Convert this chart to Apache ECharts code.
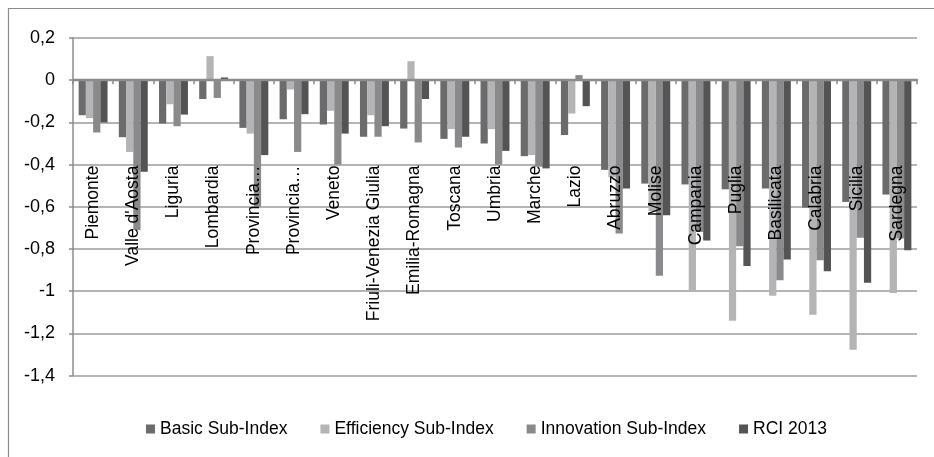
<!DOCTYPE html>
<html>
<head>
<meta charset="utf-8">
<script src="https://cdn.jsdelivr.net/npm/echarts@6/dist/echarts.min.js"></script>
<style>html,body{margin:0;padding:0;background:#fff;}#c{width:934px;height:457px;}</style>
</head>
<body>
<div id="c"></div>
<script>
const categories = ['Piemonte', "Valle d'Aosta", 'Liguria', 'Lombardia', 'Provincia Autonoma Bolzano', 'Provincia Autonoma Trento', 'Veneto', 'Friuli-Venezia Giulia', 'Emilia-Romagna', 'Toscana', 'Umbria', 'Marche', 'Lazio', 'Abruzzo', 'Molise', 'Campania', 'Puglia', 'Basilicata', 'Calabria', 'Sicilia', 'Sardegna'];
const basic      = [-0.166, -0.27, -0.205, -0.089, -0.226, -0.185, -0.21, -0.268, -0.229, -0.278, -0.30, -0.36, -0.26, -0.425, -0.49, -0.494, -0.517, -0.513, -0.604, -0.577, -0.542];
const efficiency = [-0.18, -0.34, -0.114, 0.114, -0.253, -0.044, -0.145, -0.166, 0.09, -0.232, -0.232, -0.355, -0.158, -0.46, -0.62, -0.995, -1.14, -1.022, -1.112, -1.278, -1.008];
const innovation = [-0.248, -0.71, -0.218, -0.084, -0.6, -0.34, -0.40, -0.268, -0.295, -0.319, -0.40, -0.41, 0.024, -0.727, -0.927, -0.72, -0.787, -0.948, -0.853, -0.747, -0.75];
const rci        = [-0.2, -0.434, -0.163, 0.013, -0.355, -0.161, -0.253, -0.218, -0.089, -0.268, -0.335, -0.418, -0.123, -0.513, -0.64, -0.76, -0.88, -0.85, -0.905, -0.96, -0.806];
const seriesNames = ['Basic Sub-Index', 'Efficiency Sub-Index', 'Innovation Sub-Index', 'RCI 2013'];
const colors = ['#6b6b6b', '#b4b4b6', '#8a8a8c', '#545454'];

const font = '"Liberation Sans", Arial, sans-serif';
const chart = echarts.init(document.getElementById('c'), null, {renderer: 'canvas'});
const values = [basic, efficiency, innovation, rci];
chart.setOption({
  animation: false,
  color: colors,
  graphic: [{
    type: 'rect', shape: {x: 8.5, y: 8.5, width: 1200, height: 1200},
    style: {fill: null, stroke: '#8c8c8c', lineWidth: 1.2}, silent: true, z: -10
  }],
  grid: {left: 73, right: 17, top: 38, height: 337.6, containLabel: false, outerBoundsMode: 'none'},
  legend: {
    data: seriesNames, left: 141, top: 415, icon: 'rect', itemWidth: 9, itemHeight: 9, itemGap: 33,
    textStyle: {fontFamily: font, fontSize: 17.5, color: '#000'}
  },
  xAxis: {
    type: 'category', data: categories, z: 10,
    axisLine: {onZero: true, lineStyle: {color: '#8c8c8c', width: 2.3}},
    axisTick: {show: true, length: 4, lineStyle: {color: '#8c8c8c', width: 1.5}},
    axisLabel: {
      rotate: 90, margin: -210, interval: 0, color: '#000', fontFamily: font, fontSize: 17.5,
      hideOverlap: false,
      formatter: v => v.indexOf('Provincia') === 0 ? 'Provincia\u2026' : v
    },
    splitLine: {show: false}
  },
  yAxis: {
    type: 'value', min: -1.4, max: 0.2, interval: 0.2,
    axisLine: {show: true, onZero: false, lineStyle: {color: '#8c8c8c', width: 1.5}},
    axisTick: {show: true, length: 4, lineStyle: {color: '#8c8c8c', width: 1.5}},
    axisLabel: {
      margin: 18, color: '#000', fontFamily: font, fontSize: 18,
      formatter: v => { const r = Math.round(v * 10) / 10; return String(r).replace('.', ','); }
    },
    splitLine: {show: true, lineStyle: {color: '#9c9c9c', width: 1.5}}
  },
  series: seriesNames.map((n, i) => ({
    name: n, type: 'bar', data: values[i], barGap: '0%', barCategoryGap: '28%',
    itemStyle: {color: colors[i]}
  }))
});
</script>
</body>
</html>
